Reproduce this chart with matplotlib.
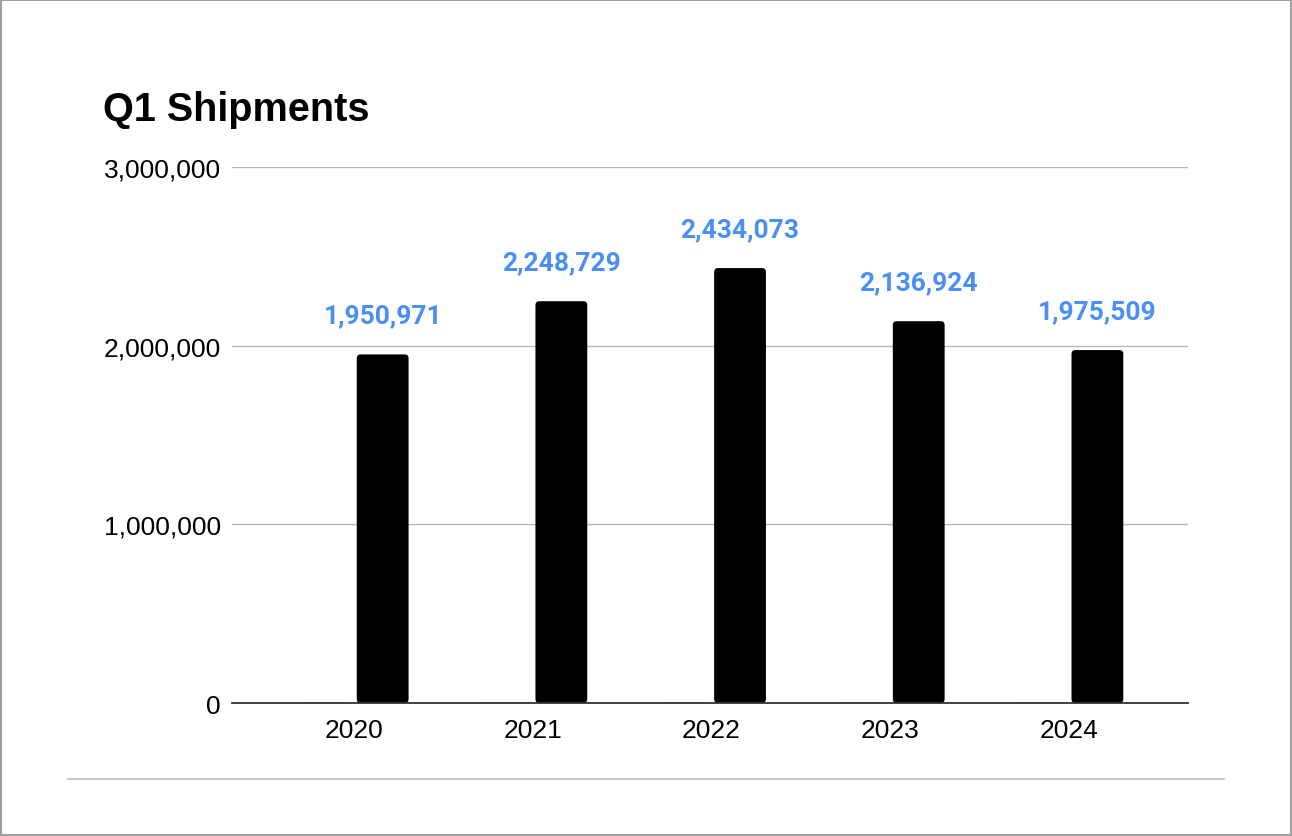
import matplotlib.pyplot as plt
from matplotlib.patches import FancyBboxPatch, Rectangle
from matplotlib.lines import Line2D
from matplotlib.ticker import FuncFormatter
import numpy as np

# Q1 shipments per year (second series is the one drawn; first is empty)
years = ['2020', '2021', '2022', '2023', '2024']
empty_series = [0, 0, 0, 0, 0]
shipments = [1950971, 2248729, 2434073, 2136924, 1975509]

plt.rcParams['font.family'] = ['Liberation Sans', 'DejaVu Sans']

fig = plt.figure(figsize=(12.92, 8.37), dpi=100)
ax = fig.add_axes([0.1796, 0.1589, 0.7399, 0.6404])

x = np.arange(len(years))
w = 0.29
off = 0.16
ax.bar(x - off, empty_series, w, color='#3c5bd6', edgecolor='#3c5bd6', linewidth=1)
bars = ax.bar(x + off, shipments, w, color='black')

# swap plain rectangles for slightly rounded ones
for b in bars:
    bx, by = b.get_x(), b.get_y()
    bw, bh = b.get_width(), b.get_height()
    b.set_visible(False)
    ax.add_patch(FancyBboxPatch((bx, by), bw, bh,
                                boxstyle='round,pad=0,rounding_size=0.022',
                                mutation_aspect=1.0e6, facecolor='black',
                                edgecolor='none'))

for xi, v in zip(x + off, shipments):
    ax.annotate(f'{v:,}', (xi, v), xytext=(0, 27), textcoords='offset pixels',
                ha='center', va='bottom', fontsize=19, fontweight='bold',
                color='#4a8ff5', family=['Roboto', 'DejaVu Sans'])

ax.set_xlim(-0.683, 4.667)
ax.set_ylim(0, 3000000)
ax.set_yticks([0, 1000000, 2000000, 3000000])
ax.yaxis.set_major_formatter(FuncFormatter(lambda v, p: f'{int(v):,}'))
ax.set_xticks(x)
ax.set_xticklabels(years)
ax.tick_params(axis='both', length=0, labelsize=19, colors='black')
ax.tick_params(axis='x', pad=10.5)
ax.tick_params(axis='y', pad=8)

ax.grid(axis='y', color='#b8b8b8', linewidth=1)
ax.set_axisbelow(True)
for s in ['top', 'right', 'left']:
    ax.spines[s].set_visible(False)
ax.spines['bottom'].set_color('#333333')
ax.spines['bottom'].set_linewidth(1.3)
ax.spines['bottom'].set_zorder(5)

fig.text(0.0797, 1 - 121 / 837, 'Q1 Shipments', fontsize=28.5, fontweight='bold',
         ha='left', va='baseline')

fig.add_artist(Line2D([0.0526, 0.947], [1 - 780 / 837] * 2, color='#bdbdbd',
                      linewidth=1.2, transform=fig.transFigure))
fig.add_artist(Rectangle((0.0005, 0.0008), 0.999, 0.9985, transform=fig.transFigure,
                         fill=False, edgecolor='#a0a0a0', linewidth=1.5))

fig.savefig('out.png', dpi=100, facecolor='white')
